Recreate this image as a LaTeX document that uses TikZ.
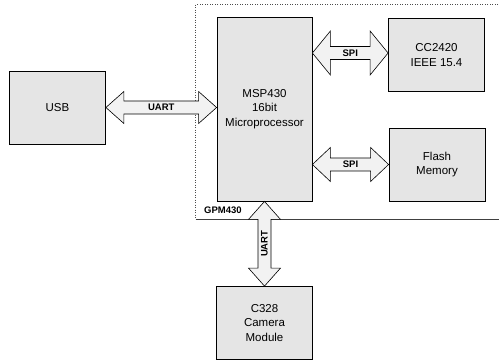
\documentclass[tikz,border=0pt]{standalone}
\usepackage{fontspec}
\setmainfont{Liberation Sans}
\usetikzlibrary{shapes,arrows,positioning,calc}

\tikzset{
  block/.style={rectangle, draw, line width=0.8pt, fill=black!10, text=black, align=center,
    minimum width=96pt, minimum height=73pt, font=\fontsize{11.5}{14.5}\selectfont},
  fatarrow/.style={draw, line width=0.6pt, fill=black!5},
  buslabel/.style={font=\fontsize{9.5}{11}\selectfont\bfseries},
  groupline/.style={draw, black!70, dash pattern=on 1pt off 1.5pt, line width=0.6pt}
}

% double block arrow: [label opts]{from}{to}{head half width}{label}
\newcommand{\busarrow}[5][]{%
  \draw[fatarrow] (#2) -- ($(#2)!18pt!(#3)!#4!90:(#3)$) -- ($(#2)!18pt!(#3)!6.5pt!90:(#3)$)
    -- ($(#3)!18pt!(#2)!6.5pt!-90:(#2)$) -- ($(#3)!18pt!(#2)!#4!-90:(#2)$) -- (#3)
    -- ($(#3)!18pt!(#2)!#4!90:(#2)$) -- ($(#3)!18pt!(#2)!6.5pt!90:(#2)$)
    -- ($(#2)!18pt!(#3)!6.5pt!-90:(#3)$) -- ($(#2)!18pt!(#3)!#4!-90:(#3)$) -- cycle;
  \node[buslabel,#1] at ($(#2)!.5!(#3)$) {#5};}

\begin{document}
\begin{tikzpicture}[on grid, auto]
  \useasboundingbox (0,0) rectangle (499pt,-361pt);
  \node [block, minimum width=95pt, minimum height=184pt] (msp) at (264.5pt,-109pt) {MSP430\\16bit\\Microprocessor};
  \node [block, above right=54pt and 172pt of msp] (cc2420) {CC2420\\IEEE 15.4};
  \node [block, below right=55.5pt and 172.5pt of msp] (flash) {Flash\\Memory};
  \node [block, below=214pt of msp] (camera) {C328\\Camera\\Module};
  \node [block, above left=1.5pt and 207pt of msp] (usb) {USB};

  % GPM430 module frame
  \coordinate (gtl) at ($(msp.north west)+(-21pt,12pt)$);
  \coordinate (gbl) at ($(msp.south west)+(-21pt,-18pt)$);
  \draw [groupline] ($(gtl)+(320pt,0)$) -- (gtl) -- (gbl);
  \draw [black!75, line width=0.8pt] (gbl) -- ++(320pt,0);
  \node [buslabel, anchor=south west] (gpm) at ($(gbl)+(5pt,2pt)$) {GPM430};

  % buses
  \coordinate (usbend) at (usb.east -| msp.west);
  \busarrow{usb.east}{usbend}{16pt}{UART}
  \coordinate (ccend) at ($(cc2420.west -| msp.east)+(0,2pt)$);
  \coordinate (ccin) at ($(cc2420.west)+(0,2pt)$);
  \busarrow{ccend}{ccin}{22pt}{SPI}
  \coordinate (flashend) at (flash.west -| msp.east);
  \busarrow{flashend}{flash.west}{17pt}{SPI}
  \coordinate (camend) at (msp.south |- camera.north);
  \busarrow[rotate=90]{msp.south}{camend}{16pt}{UART}
\end{tikzpicture}
\end{document}
